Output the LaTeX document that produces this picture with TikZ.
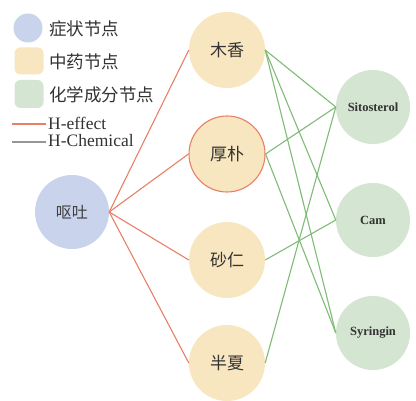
\documentclass[tikz,border=0pt]{standalone}
\usepackage{fontspec}
\setmainfont{Liberation Serif}
\newfontfamily\cjk{Noto Sans CJK SC}
\begin{document}
\begin{tikzpicture}[x=1pt,y=-1pt,
  herb/.style={circle,fill=herbfill,minimum size=76pt,inner sep=0pt,font=\cjk\fontsize{17}{17}\selectfont,text=black!80},
  sym/.style={circle,fill=symfill,minimum size=74pt,inner sep=0pt,font=\cjk\fontsize{16}{16}\selectfont,text=black!75},
  chem/.style={circle,fill=chemfill,minimum size=74pt,inner sep=0pt,font=\bfseries\fontsize{12.5}{13}\selectfont,text=black!80},
  effect/.style={draw=effcol,line width=1.1pt},
  chemline/.style={draw=chemcol,line width=1.1pt},
  legtext/.style={anchor=west,inner sep=0pt,font=\cjk\fontsize{17.5}{18}\selectfont,text=black!80},
  legtextl/.style={anchor=west,inner sep=0pt,font=\fontsize{17.5}{18}\selectfont,text=black!80}]
\definecolor{herbfill}{RGB}{248,230,192}
\definecolor{symfill}{RGB}{201,211,236}
\definecolor{chemfill}{RGB}{212,229,210}
\definecolor{effcol}{RGB}{232,128,104}
\definecolor{chemcol}{RGB}{128,188,120}
\definecolor{graycol}{RGB}{150,150,150}
\useasboundingbox (0,0) rectangle (416,401);
\fill[white] (0,0) rectangle (416,401);
% legend
\node[circle,fill=symfill,minimum size=29pt,inner sep=0pt] (l1) at (28,28) {};
\node[rounded corners=6pt,fill=herbfill,minimum width=29pt,minimum height=27pt,inner sep=0pt] (l2) at (29,61) {};
\node[rounded corners=6pt,fill=chemfill,minimum width=29pt,minimum height=28pt,inner sep=0pt] (l3) at (29,94) {};
\node[legtext] (t1) at (49,29) {症状节点};
\node[legtext] (t2) at (49,62) {中药节点};
\node[legtext] (t3) at (49,95) {化学成分节点};
\coordinate (r1) at (12,124);
\coordinate (r2) at (46,124);
\coordinate (g1) at (12,142);
\coordinate (g2) at (46,142);
\draw[effect] (r1) -- (r2);
\draw[draw=graycol,line width=1.1pt] (g1) -- (g2);
\node[legtextl] (t4) at (48,123) {H-effect};
\node[legtextl] (t5) at (48,141) {H-Chemical};
% nodes
\node[sym] (ot) at (72,212) {呕吐};
\node[herb] (mx) at (227,50) {木香};
\node[herb,draw=effcol,line width=1.1pt] (hp) at (227,154) {厚朴};
\node[herb] (sr) at (227,260) {砂仁};
\node[herb] (bx) at (227,363) {半夏};
\node[chem] (si) at (373,107) {Sitosterol};
\node[chem] (ca) at (373,220) {Cam};
\node[chem] (sy) at (373,333) {Syringin};
% effect edges
\foreach \h in {mx,hp,sr,bx} \draw[effect] (ot.east) -- (\h.west);
% chemical edges
\draw[chemline] (mx.east) -- (si.west);
\draw[chemline] (mx.east) -- (ca.west);
\draw[chemline] (mx.east) -- (sy.west);
\draw[chemline] (hp.east) -- (si.west);
\draw[chemline] (hp.east) -- (sy.west);
\draw[chemline] (sr.east) -- (ca.west);
\draw[chemline] (bx.east) -- (si.west);
\end{tikzpicture}
\end{document}
